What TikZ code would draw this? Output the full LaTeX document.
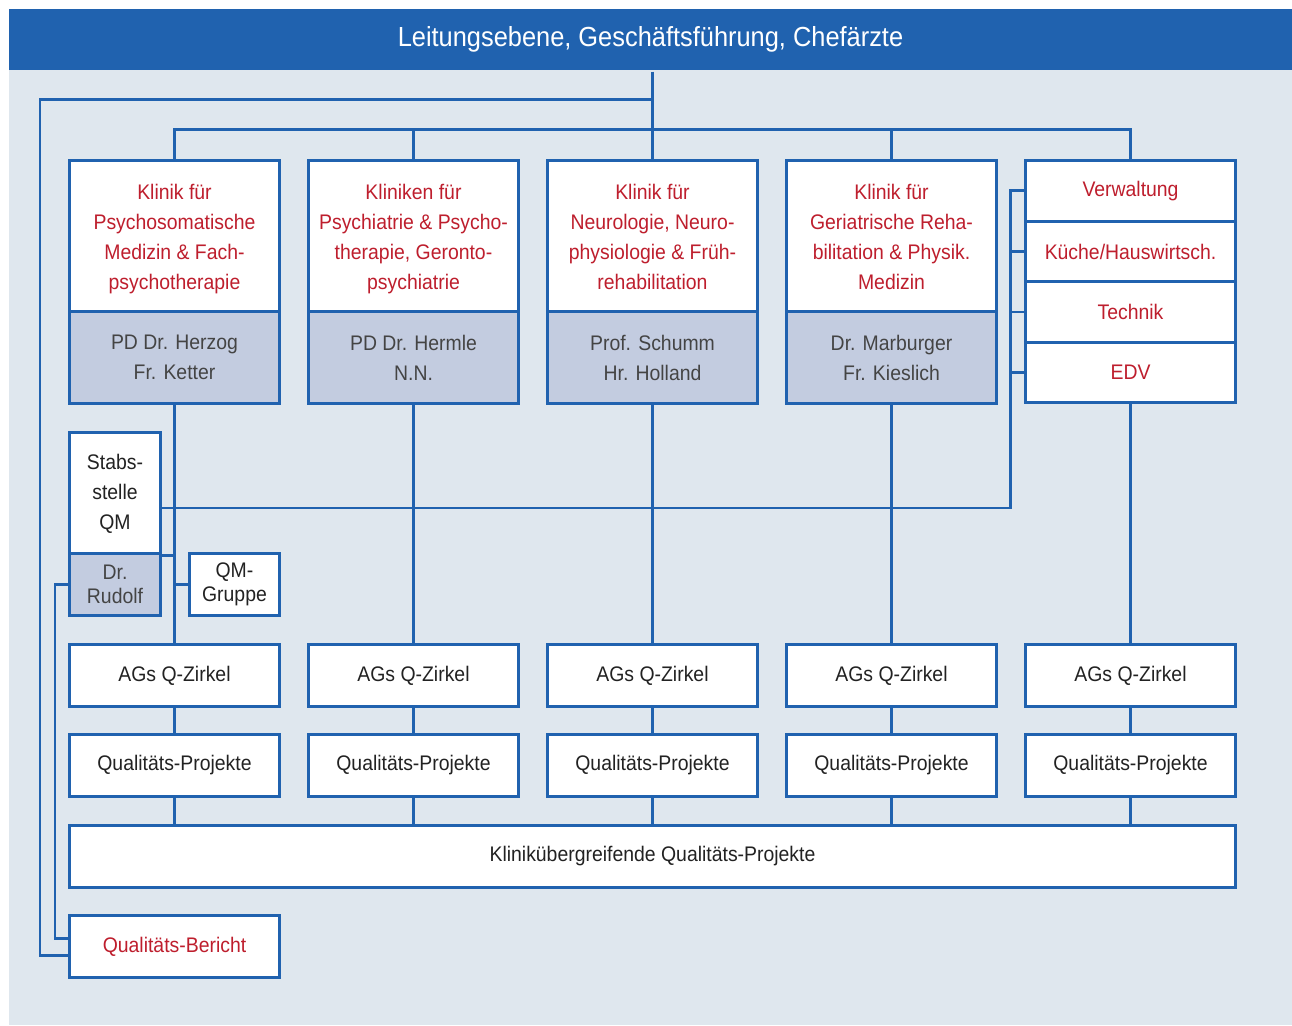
\documentclass[tikz,border=0pt]{standalone}
\usepackage{fontspec}
\setmainfont{Liberation Sans}[FakeStretch=0.92]
\usetikzlibrary{positioning}
\definecolor{qmblue}{RGB}{32,98,175}
\definecolor{qmback}{RGB}{223,231,238}
\definecolor{qmgray}{RGB}{195,204,224}
\definecolor{qmred}{RGB}{190,30,45}
\definecolor{qmtext}{RGB}{34,34,34}
\definecolor{qmname}{RGB}{68,68,68}

\begin{document}
\begin{tikzpicture}[x=0.01cm,y=-0.01cm,line width=0.85pt,
  box/.style={rectangle,draw=qmblue,fill=white,inner sep=0pt,align=center,
    text=qmtext,font=\fontsize{6}{8.54}\selectfont},
  redbox/.style={box,text=qmred},
  namebox/.style={box,fill=qmgray,text=qmname},
  colbox/.style={minimum width=2.09cm},
  conn/.style={draw=qmblue}]
\useasboundingbox (0,0) rectangle (1292,1025);
\fill[qmback] (9,9) rectangle (1292,1025);

\node[fill=qmblue,inner sep=0pt,minimum width=12.83cm,minimum height=0.61cm,
  text=white,font=\fontsize{7.85}{9}\selectfont] (head) at (650.5,39.5) {Leitungsebene, Geschäftsführung, Chefärzte};

% Kliniken
\node[redbox,colbox,minimum height=1.51cm,text depth=-0.5pt] (k1) at (174.5,236.5) {Klinik für\\Psychosomatische\\Medizin \& Fach-\\psychotherapie};
\node[redbox,colbox,minimum height=1.51cm,text depth=-0.5pt] (k2) at (413.5,236.5) {Kliniken für\\Psychiatrie \& Psycho-\\therapie, Geronto-\\psychiatrie};
\node[redbox,colbox,minimum height=1.51cm,text depth=-0.5pt] (k3) at (652.5,236.5) {Klinik für\\Neurologie, Neuro-\\physiologie \& Früh-\\rehabilitation};
\node[redbox,colbox,minimum height=1.51cm,text depth=-0.5pt] (k4) at (891.5,236.5) {Klinik für\\Geriatrische Reha-\\bilitation \& Physik.\\Medizin};

\node[namebox,colbox,minimum height=0.91cm] (g1) at (174.5,357.5) {PD Dr. Herzog\\Fr. Ketter};
\node[namebox,colbox,minimum height=0.91cm] (g2) at (413.5,357.5) {PD Dr. Hermle\\N.N.};
\node[namebox,colbox,minimum height=0.91cm] (g3) at (652.5,357.5) {Prof. Schumm\\Hr. Holland};
\node[namebox,colbox,minimum height=0.91cm] (g4) at (891.5,357.5) {Dr. Marburger\\Fr. Kieslich};

% Verwaltung
\node[redbox,colbox,minimum height=0.605cm] (verw) at (1130.5,191) {Verwaltung};
\node[redbox,colbox,minimum height=0.605cm] (kueche) at (1130.5,251.5) {Küche/Hauswirtsch.};
\node[redbox,colbox,minimum height=0.605cm] (technik) at (1130.5,312) {Technik};
\node[redbox,colbox,minimum height=0.605cm] (edv) at (1130.5,372.5) {EDV};

% Stabsstelle
\node[box,minimum width=0.9cm,minimum height=1.21cm] (stab) at (115,493.5) {Stabs-\\stelle\\QM};
\node[namebox,minimum width=0.9cm,minimum height=0.61cm,font=\fontsize{6}{6.8}\selectfont] (rud) at (115,584.5) {Dr.\\Rudolf};
\node[box,minimum width=0.89cm,minimum height=0.61cm,font=\fontsize{6}{6.8}\selectfont] (qmg) at (234.5,584.5) {QM-\\Gruppe};

% Q-Zirkel und Projekte
\node[box,colbox,minimum height=0.61cm] (ag1) at (174.5,675.5) {AGs Q-Zirkel};
\node[box,colbox,minimum height=0.61cm] (ag2) at (413.5,675.5) {AGs Q-Zirkel};
\node[box,colbox,minimum height=0.61cm] (ag3) at (652.5,675.5) {AGs Q-Zirkel};
\node[box,colbox,minimum height=0.61cm] (ag4) at (891.5,675.5) {AGs Q-Zirkel};
\node[box,colbox,minimum height=0.61cm] (ag5) at (1130.5,675.5) {AGs Q-Zirkel};

\node[box,colbox,minimum height=0.61cm] (qp1) at (174.5,765.5) {Qualitäts-Projekte};
\node[box,colbox,minimum height=0.61cm] (qp2) at (413.5,765.5) {Qualitäts-Projekte};
\node[box,colbox,minimum height=0.61cm] (qp3) at (652.5,765.5) {Qualitäts-Projekte};
\node[box,colbox,minimum height=0.61cm] (qp4) at (891.5,765.5) {Qualitäts-Projekte};
\node[box,colbox,minimum height=0.61cm] (qp5) at (1130.5,765.5) {Qualitäts-Projekte};

\node[box,minimum width=11.65cm,minimum height=0.61cm] (kl) at (652.5,856.5) {Klinikübergreifende Qualitäts-Projekte};
\node[redbox,colbox,minimum height=0.61cm] (qb) at (174.5,946.5) {Qualitäts-Bericht};

\coordinate (topbus) at (652.5,130);
\coordinate (leftbus) at (40,100);
\coordinate (sidebus) at (1010,508);
\coordinate (rudbus) at (55,584.5);

% Verbindungen
\draw[conn] (head.south -| k3.north) -- (k3.north);
\draw[conn] (k1.north) |- (topbus) -| (verw.north);
\draw[conn] (k2.north) -- (k2.north |- topbus);
\draw[conn] (k4.north) -- (k4.north |- topbus);
\draw[conn] (leftbus -| k3.north) -- (leftbus) |- ([yshift=-0.085cm]qb.west);

\draw[conn] (verw.west) -| (sidebus) -- (sidebus -| stab.east);
\draw[conn] (kueche.west) -- (kueche.west -| sidebus);
\draw[conn] (technik.west) -- (technik.west -| sidebus);
\draw[conn] (edv.west) -- (edv.west -| sidebus);

\draw[conn] (g1.south) -- (ag1.north);
\draw[conn] (g2.south) -- (ag2.north);
\draw[conn] (g3.south) -- (ag3.north);
\draw[conn] (g4.south) -- (ag4.north);
\draw[conn] (edv.south) -- (ag5.north);

\draw[conn] (stab.south east) -- (stab.south east -| g1.south);
\draw[conn] (qmg.west) -- (qmg.west -| g1.south);
\draw[conn] (rud.west) -- (rudbus) |- ([yshift=0.085cm]qb.west);

\draw[conn] (ag1.south) -- (qp1.north);
\draw[conn] (ag2.south) -- (qp2.north);
\draw[conn] (ag3.south) -- (qp3.north);
\draw[conn] (ag4.south) -- (qp4.north);
\draw[conn] (ag5.south) -- (qp5.north);

\draw[conn] (qp1.south) -- (qp1.south |- kl.north);
\draw[conn] (qp2.south) -- (qp2.south |- kl.north);
\draw[conn] (qp3.south) -- (qp3.south |- kl.north);
\draw[conn] (qp4.south) -- (qp4.south |- kl.north);
\draw[conn] (qp5.south) -- (qp5.south |- kl.north);
\end{tikzpicture}
\end{document}
